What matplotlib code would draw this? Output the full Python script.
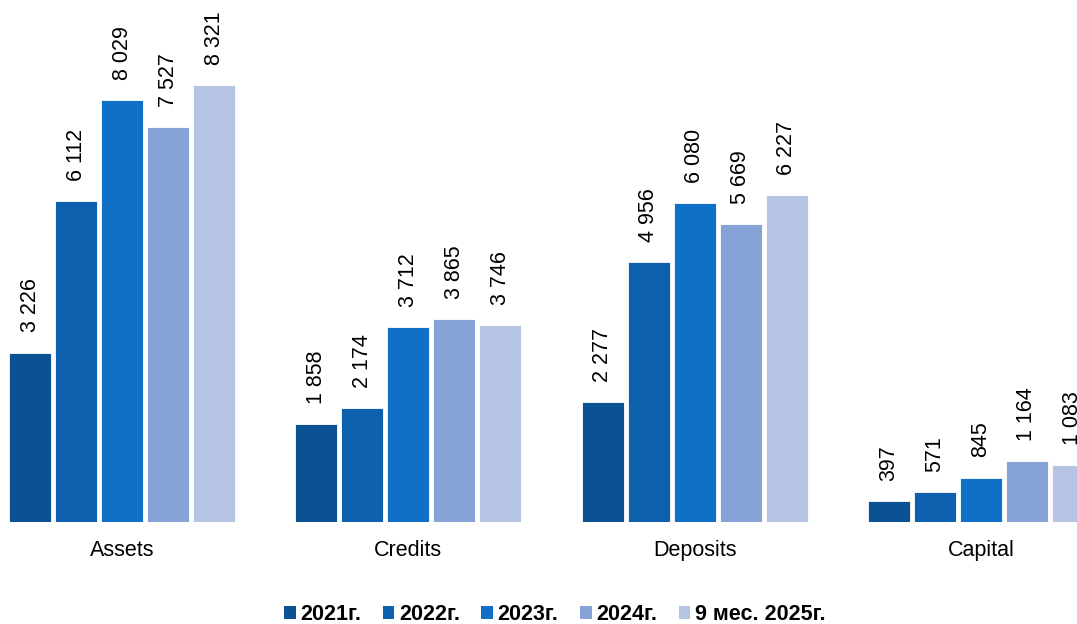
import matplotlib
matplotlib.use("Agg")
import matplotlib.pyplot as plt
import numpy as np
from matplotlib.patches import Patch

plt.rcParams['font.family'] = ['Liberation Sans', 'DejaVu Sans']

categories = ["Assets", "Credits", "Deposits", "Capital"]
series_names = ["2021г.", "2022г.", "2023г.", "2024г.", "9 мес. 2025г."]
values_2021 = [3226, 1858, 2277, 397]
values_2022 = [6112, 2174, 4956, 571]
values_2023 = [8029, 3712, 6080, 845]
values_2024 = [7527, 3865, 5669, 1164]
values_2025 = [8321, 3746, 6227, 1083]
series_values = [values_2021, values_2022, values_2023, values_2024, values_2025]
colors = ["#0B5294", "#0C60AE", "#1070C6", "#86A2D6", "#B4C4E2"]

def fmt(v):
    return f"{v:,}".replace(",", " ")

fig = plt.figure(figsize=(10.77, 6.24), dpi=100)
W, H = 1077, 624
base_px = 522
ax = fig.add_axes([0, 1 - base_px / H, 1, base_px / H])

pitch_px = 286.3
x_centers = np.arange(len(categories))
bar_w = 42 / pitch_px
bar_step = 46 / pitch_px
offsets = (np.arange(5) - 2) * bar_step

for i, (vals, col, name) in enumerate(zip(series_values, colors, series_names)):
    xs = x_centers + offsets[i]
    ax.bar(xs, vals, width=bar_w, color=col, edgecolor="white", linewidth=0.6, label=name)
    for x, v in zip(xs, vals):
        ax.annotate(fmt(v), xy=(x, v), xytext=(0, 14.5), textcoords="offset points",
                    rotation=90, ha="center", va="bottom", fontsize=15.5, color="black",
                    annotation_clip=False)

ax.set_xlim(-122 / pitch_px, 3 + (1077 - 981) / pitch_px)
ax.set_ylim(0, base_px / (437 / 8321))
ax.set_xticks(x_centers)
ax.set_xticklabels(categories, fontsize=15.5)
ax.tick_params(axis="x", length=0, pad=13)
ax.set_yticks([])
for s in ax.spines.values():
    s.set_visible(False)
ax.patch.set_alpha(0)

handles = [Patch(facecolor=c, edgecolor="none") for c in colors]
leg = fig.legend(handles, series_names, loc="center", bbox_to_anchor=(0.515, 1 - 615 / H),
                 ncol=5, frameon=False, prop={"weight": "bold", "size": 15.5},
                 handlelength=0.55, handleheight=0.55, handletextpad=0.2, columnspacing=1.0)

fig.savefig("out.png", dpi=100)
